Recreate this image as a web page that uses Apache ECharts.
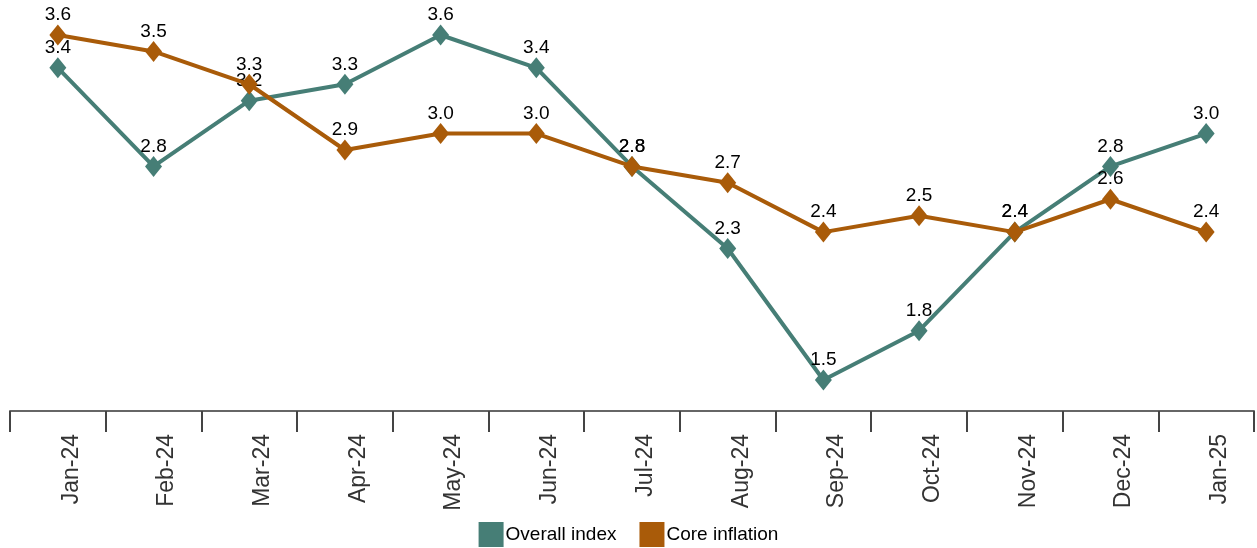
<!DOCTYPE html>
<html>
<head>
<meta charset="utf-8">
<script src="https://cdn.jsdelivr.net/npm/echarts@6/dist/echarts.min.js"></script>
<style>
  html, body { margin: 0; padding: 0; background: #fff; }
  #chart { width: 1257px; height: 548px; }
</style>
</head>
<body>
<div id="chart"></div>
<script>
var months = ['Jan-24', 'Feb-24', 'Mar-24', 'Apr-24', 'May-24', 'Jun-24', 'Jul-24',
  'Aug-24', 'Sep-24', 'Oct-24', 'Nov-24', 'Dec-24', 'Jan-25'];
var overallIndex = [3.4, 2.8, 3.2, 3.3, 3.6, 3.4, 2.8, 2.3, 1.5, 1.8, 2.4, 2.8, 3.0];
var coreInflation = [3.6, 3.5, 3.3, 2.9, 3.0, 3.0, 2.8, 2.7, 2.4, 2.5, 2.4, 2.6, 2.4];

var teal = '#467E76';
var brown = '#A95B09';

var chart = echarts.init(document.getElementById('chart'));

function lineSeries(name, data, color, z) {
  return {
    name: name,
    type: 'line',
    data: data,
    z: z,
    symbol: 'diamond',
    symbolSize: [17, 21],
    lineStyle: { color: color, width: 4 },
    itemStyle: { color: color },
    label: {
      show: true,
      position: 'top',
      distance: 0,
      color: '#000',
      fontFamily: 'Liberation Sans, Arial, sans-serif',
      fontSize: 19,
      formatter: function (p) { return p.value.toFixed(1); }
    },
    emphasis: { disabled: true },
    animation: false
  };
}

var option = {
  backgroundColor: '#fff',
  grid: { left: 10, right: 3, top: 0, bottom: 137 },
  legend: {
    bottom: 1,
    left: 'center',
    padding: 0,
    itemWidth: 25,
    itemHeight: 25,
    itemGap: 23,
    icon: 'rect',
    textStyle: {
      color: '#000',
      fontFamily: 'Liberation Sans, Arial, sans-serif',
      fontSize: 19,
      padding: [0, 0, 0, -3]
    },
    data: ['Overall index', 'Core inflation']
  },
  xAxis: {
    type: 'category',
    data: months,
    boundaryGap: true,
    axisLine: { lineStyle: { color: '#666', width: 2 } },
    axisTick: { show: true, length: 21, lineStyle: { color: '#444', width: 2 } },
    axisLabel: {
      rotate: 90,
      margin: 23,
      verticalAlign: 'top',
      padding: [2, 0, 0, 0],
      color: '#333',
      fontFamily: 'Liberation Sans, Arial, sans-serif',
      fontSize: 23,
      interval: 0
    }
  },
  yAxis: {
    type: 'value',
    min: 1.311,
    max: 3.813,
    show: false,
    splitLine: { show: false }
  },
  series: [
    lineSeries('Overall index', overallIndex, teal, 2),
    lineSeries('Core inflation', coreInflation, brown, 3)
  ]
};

chart.setOption(option);
</script>
</body>
</html>
